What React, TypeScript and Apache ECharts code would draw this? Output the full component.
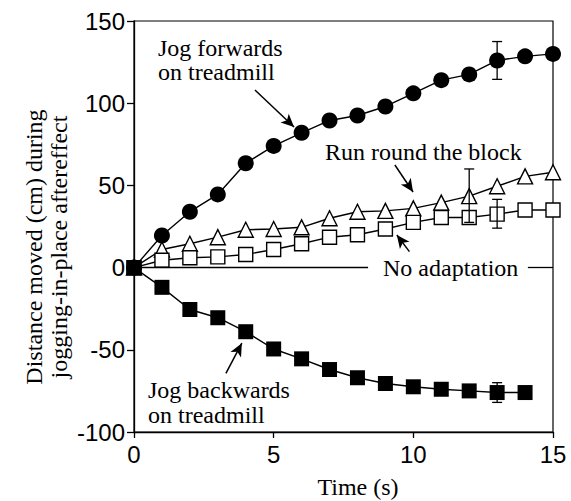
import React, { useEffect, useRef } from "react";
import * as echarts from "echarts";

// ---- data ----
const times = [0, 1, 2, 3, 4, 5, 6, 7, 8, 9, 10, 11, 12, 13, 14, 15];
const jogForwards = [0, 19.5, 34, 44.5, 63.5, 74, 82, 89.5, 92.5, 98, 106, 114, 117.5, 126, 128.5, 130];
const runRound = [0, 11, 14.5, 18.5, 23, 23.5, 24.5, 30, 34, 34.5, 36, 39.5, 43.5, 49.5, 55.5, 58];
const noAdaptation = [0, 4.5, 6, 6.5, 8, 11, 14.5, 18.5, 20, 23.5, 27.5, 30.5, 30.5, 32.5, 35, 35];
const jogBackwards = [0, -12, -25.5, -30.5, -39, -49.5, -55.5, -62, -67, -70.5, -72.5, -74, -75, -76, -76];

// error bars: [time, low, high]
const errorBars = [
  [13, 114.5, 137.5],
  [12, 27.5, 60],
  [13, 24, 41.5],
  [13, -82, -70],
];

// annotation arrows in data coordinates: [x1, y1, x2(tip), y2(tip)]
const arrows = [
  [4.33, 108, 5.73, 85.5],
  [9.34, 62.4, 9.99, 46],
  [9.86, 9.7, 9.41, 19.8],
  [3.29, -64.3, 3.86, -46],
];
// "No adaptation" reference line segments at y = 0
const zeroSegments = [
  [0, 8.38],
  [14.1, 15],
];

const xTicks = { min: 0, max: 15, interval: 5 };
const yTicks = { min: -100, max: 150, interval: 50 };

const SERIF = "'Liberation Serif', 'Times New Roman', serif";
const SANS = "'Liberation Sans', Arial, sans-serif";

const pairs = (vals: number[]) => vals.map((v, i) => [times[i], v]);

export default function App() {
  const ref = useRef<HTMLDivElement>(null);
  useEffect(() => {
    if (!ref.current) return;
    const chart = echarts.init(ref.current, undefined, { renderer: "svg" });
    const lineStyle = { color: "#000", width: 1.4 };
    const option: any = {
      animation: false,
      backgroundColor: "#fff",
      grid: {
        left: 134,
        right: 18,
        top: 21,
        bottom: 69,
        show: true,
        borderColor: "#000",
        borderWidth: 1.2,
      },
      xAxis: {
        type: "value",
        ...xTicks,
        axisLine: { show: true, onZero: false, lineStyle: { color: "#000", width: 1.3 } },
        axisTick: { show: true, inside: false, length: 6, lineStyle: { color: "#000", width: 1.3 } },
        axisLabel: { color: "#000", fontFamily: SANS, fontSize: 24, margin: 10 },
        splitLine: { show: false },
      },
      yAxis: {
        type: "value",
        ...yTicks,
        axisLine: { show: true, onZero: false, lineStyle: { color: "#000", width: 1.3 } },
        axisTick: { show: true, inside: false, length: 7, lineStyle: { color: "#000", width: 1.3 } },
        axisLabel: { color: "#000", fontFamily: SANS, fontSize: 24, margin: 9 },
        splitLine: { show: false },
      },
      graphic: [
        {
          type: "text",
          x: 34,
          y: 247,
          rotation: Math.PI / 2,
          style: { text: "Distance moved (cm) during", fontFamily: SERIF, fontSize: 24, fill: "#000", align: "center", verticalAlign: "middle" },
        },
        {
          type: "text",
          x: 59,
          y: 247,
          rotation: Math.PI / 2,
          style: { text: "jogging-in-place aftereffect", fontFamily: SERIF, fontSize: 24, fill: "#000", align: "center", verticalAlign: "middle" },
        },
        {
          type: "text",
          x: 358,
          y: 487,
          style: { text: "Time (s)", fontFamily: SERIF, fontSize: 24, fill: "#000", align: "center", verticalAlign: "middle" },
        },
        {
          type: "text",
          x: 158,
          y: 60,
          style: { text: "Jog forwards\non treadmill", fontFamily: SERIF, fontSize: 24, lineHeight: 24, fill: "#000", align: "left", verticalAlign: "middle" },
        },
        {
          type: "text",
          x: 325,
          y: 152,
          style: { text: "Run round the block", fontFamily: SERIF, fontSize: 24, fill: "#000", align: "left", verticalAlign: "middle" },
        },
        {
          type: "text",
          x: 383,
          y: 268,
          style: { text: "No adaptation", fontFamily: SERIF, fontSize: 24, fill: "#000", align: "left", verticalAlign: "middle" },
        },
        {
          type: "text",
          x: 148,
          y: 402,
          style: { text: "Jog backwards\non treadmill", fontFamily: SERIF, fontSize: 24, lineHeight: 25, fill: "#000", align: "left", verticalAlign: "middle" },
        },
      ],
      series: [
        {
          name: "Run round the block",
          type: "line",
          data: pairs(runRound),
          symbol: "triangle",
          symbolSize: 15,
          showAllSymbol: true,
          lineStyle,
          itemStyle: { color: "#fff", borderColor: "#000", borderWidth: 1.4 },
          z: 3,
        },
        {
          name: "No adaptation",
          type: "line",
          data: pairs(noAdaptation),
          symbol: "rect",
          symbolSize: 14,
          showAllSymbol: true,
          lineStyle,
          itemStyle: { color: "#fff", borderColor: "#000", borderWidth: 1.4 },
          z: 4,
          markLine: {
            silent: true,
            symbol: ["none", "arrow"],
            symbolSize: [9, 13],
            label: { show: false },
            lineStyle: { color: "#000", width: 1.5, type: "solid" },
            data: arrows.map((a) => [{ coord: [a[0], a[1]] }, { coord: [a[2], a[3]] }]),
          },
        },
        {
          name: "Jog forwards on treadmill",
          type: "line",
          data: pairs(jogForwards),
          symbol: "circle",
          symbolSize: 16,
          showAllSymbol: true,
          lineStyle,
          itemStyle: { color: "#000" },
          z: 5,
        },
        {
          name: "Jog backwards on treadmill",
          type: "line",
          data: pairs(jogBackwards),
          symbol: "rect",
          symbolSize: 15,
          showAllSymbol: true,
          lineStyle,
          itemStyle: { color: "#000" },
          z: 6,
          markLine: {
            silent: true,
            symbol: ["none", "none"],
            label: { show: false },
            lineStyle: { color: "#000", width: 1.3, type: "solid" },
            data: zeroSegments.map((s) => [{ coord: [s[0], 0] }, { coord: [s[1], 0] }]),
          },
        },
        {
          name: "error",
          type: "custom",
          data: errorBars,
          z: 7,
          encode: { x: 0, y: [1, 2] },
          renderItem: (params: any, api: any) => {
            const x = api.value(0);
            const p1 = api.coord([x, api.value(1)]);
            const p2 = api.coord([x, api.value(2)]);
            const w = 5;
            const st = { stroke: "#000", lineWidth: 1.3 };
            return {
              type: "group",
              children: [
                { type: "line", shape: { x1: p1[0], y1: p1[1], x2: p2[0], y2: p2[1] }, style: st },
                { type: "line", shape: { x1: p1[0] - w, y1: p1[1], x2: p1[0] + w, y2: p1[1] }, style: st },
                { type: "line", shape: { x1: p2[0] - w, y1: p2[1], x2: p2[0] + w, y2: p2[1] }, style: st },
              ],
            };
          },
        },
      ],
    };
    chart.setOption(option);
    return () => chart.dispose();
  }, []);
  return <div ref={ref} style={{ width: 571, height: 501, position: "absolute", left: 0, top: 0 }} />;
}
